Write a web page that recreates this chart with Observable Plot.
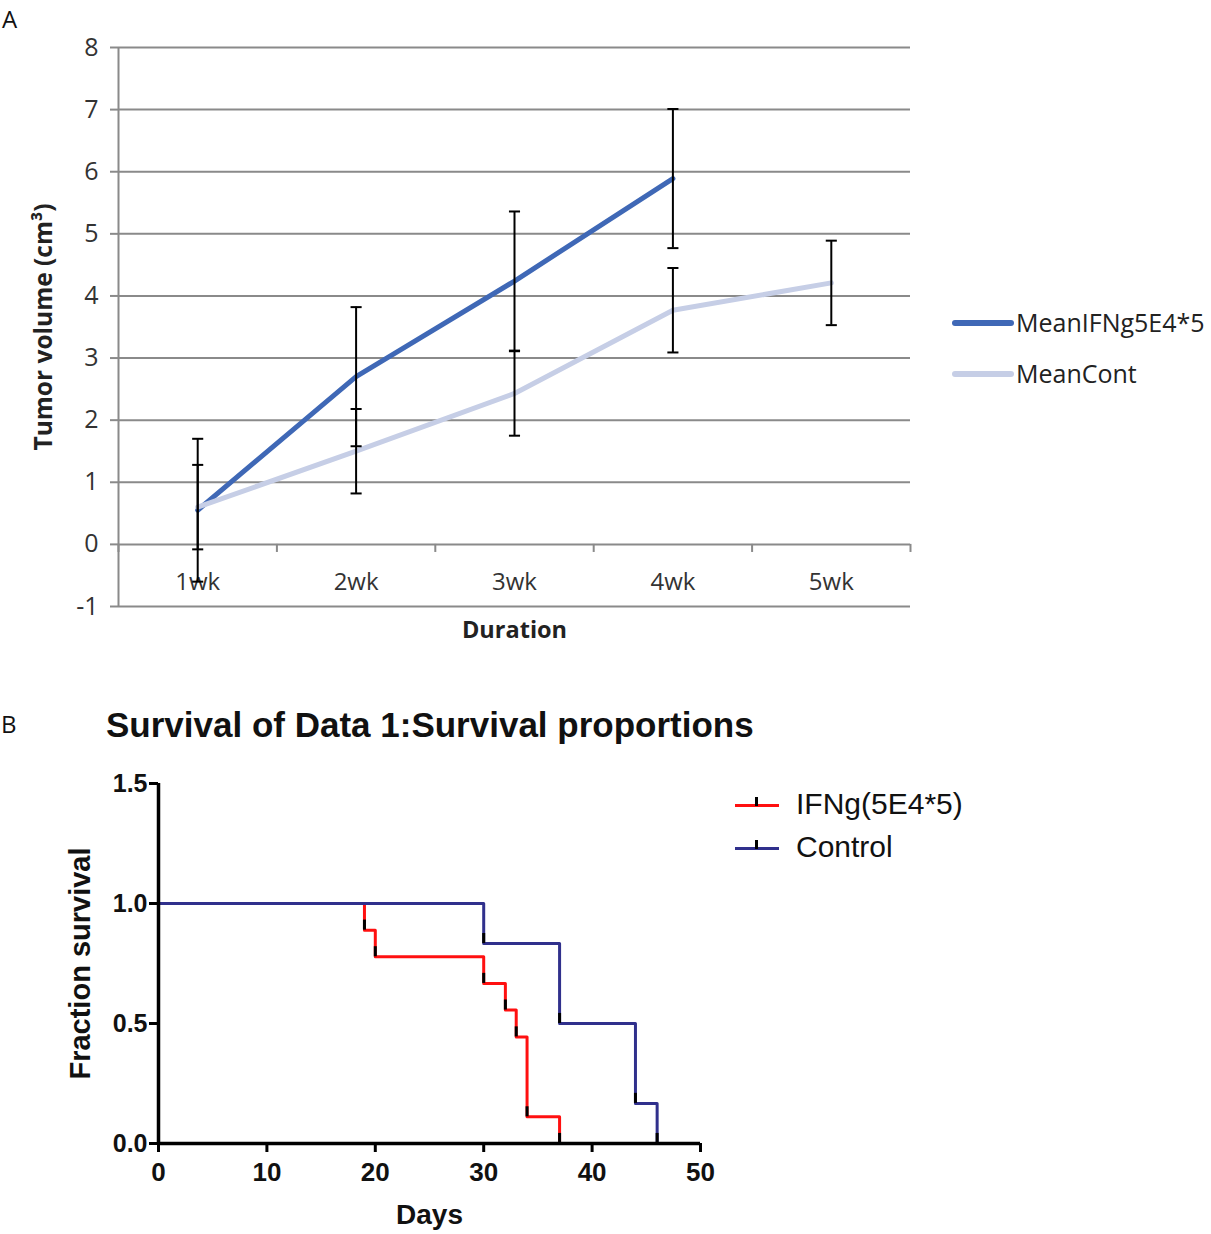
<!DOCTYPE html>
<html>
<head>
<meta charset="utf-8">
<script src="https://cdn.jsdelivr.net/npm/d3@7"></script>
<script src="https://cdn.jsdelivr.net/npm/@observablehq/plot@0.6"></script>
<style>
  html, body { margin: 0; padding: 0; background: #fff; }
  #wrap { position: relative; width: 1211px; height: 1234px; overflow: hidden; }
  #wrap > svg { position: absolute; }
  .lbl { position: absolute; white-space: nowrap; }
</style>
</head>
<body>
<div id="wrap">
  <div class="lbl" style="left:2px;top:2px;font:24px 'Open Sans',sans-serif;color:#111;">A</div>
  <div class="lbl" style="left:1px;top:707px;font:24px 'Open Sans',sans-serif;color:#111;">B</div>
  <div class="lbl" style="left:106px;top:705px;font:bold 35px 'Liberation Sans',Arial,sans-serif;color:#111;">Survival of Data 1:Survival proportions</div>
</div>
<script>
// ---------- Panel A data ----------
const weeks = ["1wk", "2wk", "3wk", "4wk", "5wk"];
const ifngWeeks = ["1wk", "2wk", "3wk", "4wk"];
const ifngMean = [0.55, 2.70, 4.24, 5.89];
const ifngErr = [1.15, 1.12, 1.12, 1.12];
const contWeeks = ["1wk", "2wk", "3wk", "4wk", "5wk"];
const contMean = [0.60, 1.50, 2.43, 3.77, 4.21];
const contErr = [0.68, 0.68, 0.68, 0.68, 0.68];
const yTicksA = [-1, 0, 1, 2, 3, 4, 5, 6, 7, 8];
const seriesA = ["MeanIFNg5E4*5", "MeanCont"];

// ---------- Panel B data ----------
const ifngDays = [0, 19, 20, 30, 32, 33, 34, 37];
const ifngSurv = [1, 0.889, 0.778, 0.667, 0.556, 0.444, 0.111, 0];
const contDays = [0, 30, 37, 44, 46];
const contSurv = [1, 0.833, 0.5, 0.167, 0];
const xTicksB = [0, 10, 20, 30, 40, 50];
const yTicksB = [0, 0.5, 1.0, 1.5];
const seriesB = ["IFNg(5E4*5)", "Control"];

const wrap = document.getElementById("wrap");
const fontA = "'Open Sans', sans-serif";
const fontB = "'Liberation Sans', Arial, sans-serif";
const grey = "#8a8a8a";
const blue = "#3f68b6";
const light = "#c6cee6";
const red = "#ff1010";
const navy = "#30308c";

const idx = w => weeks.indexOf(w) + 1;
const ifng = ifngWeeks.map((w, i) => ({x: idx(w), m: ifngMean[i], e: ifngErr[i]}));
const cont = contWeeks.map((w, i) => ({x: idx(w), m: contMean[i], e: contErr[i]}));
const bounds = weeks.map((w, i) => i + 0.5).concat([weeks.length + 0.5]);
const capHalf = 0.035;

function errMarks(data) {
  return [
    Plot.ruleX(data, {x: "x", y1: d => d.m - d.e, y2: d => d.m + d.e, stroke: "#000", strokeWidth: 2}),
    Plot.link(data, {x1: d => d.x - capHalf, x2: d => d.x + capHalf, y1: d => d.m + d.e, y2: d => d.m + d.e, stroke: "#000", strokeWidth: 2}),
    Plot.link(data, {x1: d => d.x - capHalf, x2: d => d.x + capHalf, y1: d => d.m - d.e, y2: d => d.m - d.e, stroke: "#000", strokeWidth: 2})
  ];
}

const plotA = Plot.plot({
  width: 940, height: 660,
  marginLeft: 118, marginRight: 30, marginTop: 47, marginBottom: 54,
  x: {type: "linear", domain: [0.5, weeks.length + 0.5], axis: null},
  y: {domain: [-1, 8], axis: null},
  style: {fontFamily: fontA, background: "transparent", overflow: "visible"},
  marks: [
    Plot.gridY(yTicksA, {stroke: grey, strokeOpacity: 1, strokeWidth: 2}),
    Plot.axisY(yTicksA, {tickSize: 8, stroke: grey, strokeWidth: 2, tickPadding: 12, tickFormat: d => String(d), fontSize: 25, fill: "#333", label: null, fontFamily: fontA}),
    Plot.ruleX([0.5], {stroke: grey, strokeWidth: 2}),
    Plot.ruleX(bounds, {x: d => d, y1: 0, y2: -0.13, stroke: grey, strokeWidth: 2}),
    Plot.text(weeks, {x: (d, i) => i + 1, y: 0, dy: 38, text: d => d, fontSize: 24, fill: "#333", fontFamily: fontA}),
    Plot.line(ifng, {x: "x", y: "m", stroke: blue, strokeWidth: 5, strokeLinecap: "round", strokeLinejoin: "round"}),
    Plot.line(cont, {x: "x", y: "m", stroke: light, strokeWidth: 5, strokeLinecap: "round", strokeLinejoin: "round"}),
    ...errMarks(ifng),
    ...errMarks(cont),
    Plot.text(["Tumor volume (cm³)"], {frameAnchor: "left", textAnchor: "middle", rotate: -90, dx: -74, text: d => d, fontSize: 24.5, fontWeight: "bold", fill: "#222", fontFamily: fontA}),
    Plot.text(["Duration"], {frameAnchor: "bottom", dy: 31, text: d => d, fontSize: 23.5, fontWeight: "bold", fill: "#222", fontFamily: fontA})
  ]
});
plotA.style.left = "0px"; plotA.style.top = "0px";
wrap.appendChild(plotA);

// Legend A
[[seriesA[0], blue, 323], [seriesA[1], light, 374]].forEach(([name, col, y]) => {
  const sw = document.createElement("div");
  sw.style.cssText = `position:absolute;left:952px;top:${y - 3}px;width:62px;height:6px;border-radius:3px;background:${col};`;
  wrap.appendChild(sw);
  const t = document.createElement("div");
  t.className = "lbl";
  t.textContent = name;
  t.style.cssText += `left:1016px;top:${y - 18}px;font:25px ${fontA};color:#222;line-height:34px;`;
  wrap.appendChild(t);
});

// Panel B
const ifngPts = ifngDays.map((d, i) => ({x: d, y: ifngSurv[i]}));
const contPts = contDays.map((d, i) => ({x: d, y: contSurv[i]}));
const tickLen = 0.042;

const plotB = Plot.plot({
  width: 720, height: 474,
  marginLeft: 158, marginRight: 20, marginTop: 23, marginBottom: 91,
  x: {domain: [0, 50], axis: null},
  y: {domain: [0, 1.5], axis: null},
  style: {fontFamily: fontB, background: "transparent", overflow: "visible"},
  marks: [
    Plot.line(ifngPts, {x: "x", y: "y", curve: "step-after", stroke: red, strokeWidth: 3}),
    Plot.line(contPts, {x: "x", y: "y", curve: "step-after", stroke: navy, strokeWidth: 3}),
    Plot.ruleX(ifngPts.slice(1), {x: "x", y1: "y", y2: d => d.y + tickLen, stroke: "#000", strokeWidth: 3}),
    Plot.ruleX(contPts.slice(1), {x: "x", y1: "y", y2: d => d.y + tickLen, stroke: "#000", strokeWidth: 3}),
    Plot.axisX(xTicksB, {tickSize: 9, strokeWidth: 3, stroke: "#000", tickPadding: 10, fontSize: 26, fontWeight: "bold", fill: "#111", label: null, fontFamily: fontB}),
    Plot.axisY(yTicksB, {tickSize: 9, strokeWidth: 3, stroke: "#000", tickPadding: 2, tickFormat: d3.format(".1f"), fontSize: 25, fontWeight: "bold", fill: "#111", label: null, fontFamily: fontB}),
    Plot.ruleX([0], {stroke: "#000", strokeWidth: 3.5}),
    Plot.ruleY([0], {stroke: "#000", strokeWidth: 3.5}),
    Plot.text(["Fraction survival"], {frameAnchor: "left", textAnchor: "middle", rotate: -90, dx: -78, text: d => d, fontSize: 29, fontWeight: "bold", fill: "#111", fontFamily: fontB}),
    Plot.text(["Days"], {frameAnchor: "bottom", dy: 80, text: d => d, fontSize: 28, fontWeight: "bold", fill: "#111", fontFamily: fontB})
  ]
});
plotB.style.left = "0px"; plotB.style.top = "760px";
wrap.appendChild(plotB);

// Legend B
[[seriesB[0], red, 805], [seriesB[1], navy, 848]].forEach(([name, col, y]) => {
  const sw = document.createElement("div");
  sw.style.cssText = `position:absolute;left:735px;top:${y - 1.5}px;width:44px;height:3px;background:${col};`;
  wrap.appendChild(sw);
  const tk = document.createElement("div");
  tk.style.cssText = `position:absolute;left:755px;top:${y - 8}px;width:3px;height:9px;background:#000;`;
  wrap.appendChild(tk);
  const t = document.createElement("div");
  t.className = "lbl";
  t.textContent = name;
  t.style.cssText += `left:796px;top:${y - 18}px;font:30px ${fontB};color:#111;line-height:34px;`;
  wrap.appendChild(t);
});
</script>
</body>
</html>
